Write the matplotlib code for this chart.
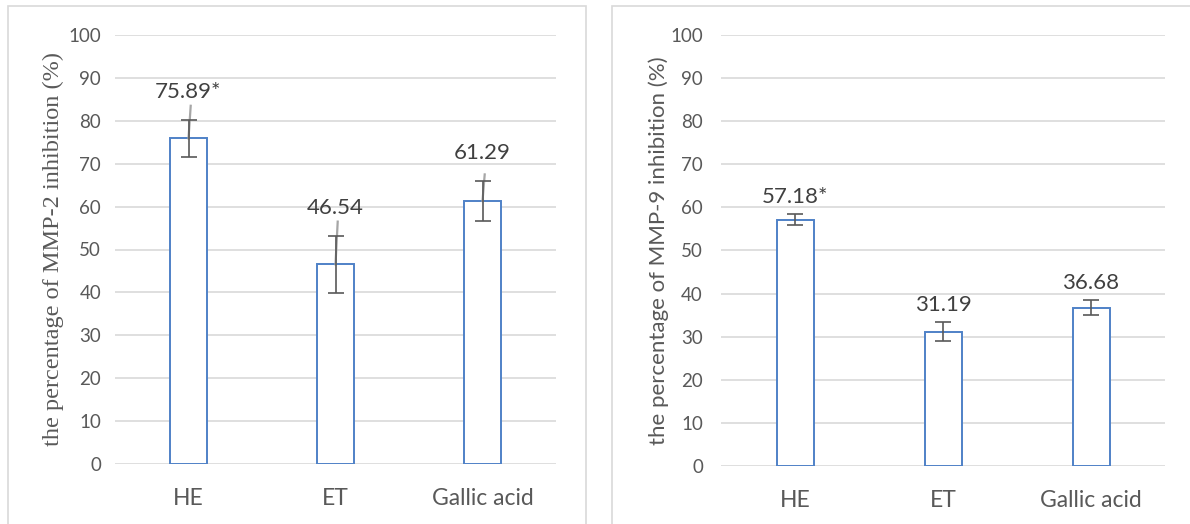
import matplotlib.pyplot as plt
from matplotlib.patches import Rectangle

categories = ["HE", "ET", "Gallic acid"]

mmp2_values = [75.89, 46.54, 61.29]
mmp2_err = [4.3, 6.7, 4.7]
mmp2_labels = ["75.89*", "46.54", "61.29"]
mmp2_streak_top = [83.5, 56.5, 67.5]   # faint grey strokes above the caps

mmp9_values = [57.18, 31.19, 36.68]
mmp9_err = [1.35, 2.2, 1.75]
mmp9_labels = ["57.18*", "31.19", "36.68"]

yticks = list(range(0, 101, 10))

bar_edge = "#4f81c7"
grid_col = "#d9d9d9"
tick_col = "#595959"
text_col = "#404040"

fig = plt.figure(figsize=(11.9, 5.24), dpi=100)

# panel frames
for x0, x1 in [(8, 586), (612, 1195)]:
    fig.patches.append(Rectangle((x0 / 1190, -0.05), (x1 - x0) / 1190, 1.05 - 6 / 524,
                                 transform=fig.transFigure, fill=False,
                                 edgecolor=grid_col, linewidth=1.2))


def draw_panel(ax, values, err, labels, ylabel, label_font, label_size,
               ytick_pad, label_pad, ylabel_pad, streaks=None):
    x = range(len(categories))
    ax.set_axisbelow(True)
    ax.bar(x, values, width=0.25, color="white", edgecolor=bar_edge, linewidth=1.4, zorder=2)
    if streaks is not None:
        for xi, v, top in zip(x, values, streaks):
            ax.plot([xi, xi + 0.015], [v, top], color="#a6a6a6", linewidth=1.6, zorder=3)
    ax.errorbar(x, values, yerr=err, fmt="none", ecolor="#595959", elinewidth=1.2,
                capsize=6, capthick=1.2, zorder=4)
    for xi, v, e, lab in zip(x, values, err, labels):
        ax.annotate(lab, (xi, v + e), xytext=(0, label_pad), textcoords="offset points",
                    ha="center", va="bottom", fontsize=16, color=text_col, family="Lato")
    ax.set_xlim(-0.5, len(categories) - 0.5)
    ax.set_ylim(0, 100)
    ax.set_yticks(yticks)
    ax.yaxis.grid(True, color=grid_col, linewidth=1.2)
    for s in ax.spines.values():
        s.set_visible(False)
    ax.tick_params(axis="y", length=0, pad=ytick_pad, labelsize=13.5, labelcolor=tick_col)
    ax.tick_params(axis="x", length=0, pad=17, labelsize=16.5, labelcolor=tick_col)
    ax.set_xticks(list(x))
    ax.set_xticklabels(categories)
    for t in ax.get_xticklabels() + ax.get_yticklabels():
        t.set_family("Lato")
    ax.set_ylabel(ylabel, fontsize=label_size, color=tick_col, family=label_font,
                  labelpad=ylabel_pad)


ax1 = fig.add_axes([115 / 1190, 1 - 464 / 524, 441 / 1190, 429 / 524])
draw_panel(ax1, mmp2_values, mmp2_err, mmp2_labels,
           "the percentage of MMP-2 inhibition (%)",
           ["Liberation Serif", "DejaVu Serif", "serif"], 17.5,
           ytick_pad=10, label_pad=13, ylabel_pad=3, streaks=mmp2_streak_top)

ax2 = fig.add_axes([721 / 1190, 1 - 466 / 524, 444 / 1190, 431 / 524])
draw_panel(ax2, mmp9_values, mmp9_err, mmp9_labels,
           "the percentage of MMP-9 inhibition (%)", "Lato", 16,
           ytick_pad=13, label_pad=5, ylabel_pad=1)

fig.savefig("out.png", dpi=100)
